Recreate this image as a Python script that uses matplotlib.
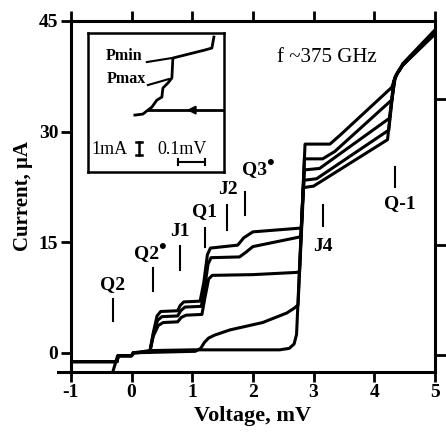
import matplotlib
matplotlib.use('Agg')
import matplotlib.pyplot as plt

plt.rcParams['font.family'] = ['Liberation Serif', 'DejaVu Serif']
plt.rcParams['font.weight'] = 'bold'
plt.rcParams['axes.labelweight'] = 'bold'
plt.rcParams['axes.unicode_minus'] = False

# I-V curves under LO pumping, from strongest pumping (a) to unpumped (e)
v_a = [-0.31, -0.23, 0.0, 0.03, 0.30, 0.36, 0.42, 0.48, 0.76, 0.80, 0.86, 1.13, 1.19, 1.25, 1.30,
       1.75, 1.85, 2.0, 2.77, 2.80, 2.83, 3.0, 4.22, 4.32, 4.40, 4.47, 5.05]
i_a = [-2.6, -0.4, -0.4, 0.0, 0.1, 2.8, 5.0, 5.6, 5.7, 6.4, 6.9, 7.0, 9.5, 13.3, 14.2,
       14.6, 15.6, 16.4, 16.9, 17.0, 22.4, 22.6, 28.9, 36.8, 38.2, 39.0, 43.6]

v_b = [-1.0, -0.24, -0.22, 0.0, 0.03, 0.30, 0.36, 0.43, 0.50, 0.76, 0.81, 0.88, 1.15, 1.20, 1.26, 1.31,
       1.78, 1.88, 2.0, 2.77, 2.79, 2.84, 3.05, 4.24, 4.33, 4.40, 4.47, 5.05]
i_b = [-1.2, -1.2, -0.4, -0.4, 0.0, 0.1, 2.6, 4.4, 4.9, 5.0, 5.7, 6.2, 6.3, 8.5, 12.0, 12.9,
       13.0, 13.6, 14.4, 15.7, 16.0, 23.4, 23.6, 30.2, 37.0, 38.2, 39.0, 43.8]

v_c = [-1.0, -0.24, -0.22, 0.0, 0.03, 0.30, 0.36, 0.44, 0.52, 0.76, 0.82, 0.90, 1.16, 1.21, 1.27, 1.33,
       2.0, 2.72, 2.77, 2.85, 3.1, 4.25, 4.34, 4.40, 4.47, 5.05]
i_c = [-1.2, -1.2, -0.4, -0.4, 0.0, 0.1, 2.3, 3.7, 4.1, 4.2, 4.8, 5.1, 5.2, 7.5, 10.0, 10.5,
       10.6, 10.9, 11.0, 24.8, 25.0, 31.8, 37.3, 38.1, 39.0, 43.7]

v_d = [-1.0, -0.24, -0.22, 0.0, 0.03, 1.05, 1.14, 1.20, 1.27, 1.37, 1.62, 2.16, 2.56, 2.69, 2.745,
       2.85, 3.15, 3.35, 4.29, 4.35, 4.40, 4.47, 5.05]
i_d = [-1.2, -1.2, -0.4, -0.4, 0.0, 0.2, 0.6, 1.4, 2.0, 2.4, 3.1, 4.1, 5.4, 6.1, 6.5,
       26.3, 26.3, 27.3, 34.3, 37.5, 38.2, 39.1, 44.0]

v_e = [-1.0, -0.24, -0.22, 0.0, 0.03, 0.30, 1.0, 2.0, 2.44, 2.60, 2.68, 2.72,
       2.86, 3.27, 3.45, 4.29, 4.37, 4.42, 4.47, 5.05]
i_e = [-1.2, -1.2, -0.4, -0.4, 0.0, 0.3, 0.4, 0.4, 0.4, 0.6, 1.2, 2.5,
       28.3, 28.3, 29.6, 36.0, 37.8, 38.3, 39.2, 44.2]

# photon step / josephson labels: name, text position, marker position
labels = ['Q2', 'Q2', 'J1', 'Q1', 'J2', 'Q3', 'J4', 'Q-1']
dotted = [False, True, False, False, False, True, False, False]
label_v = [-0.31, 0.24, 0.80, 1.21, 1.59, 2.03, 3.15, 4.42]
label_i = [9.2, 13.4, 16.5, 19.2, 22.1, 24.8, 14.4, 20.3]
mark_v = [-0.31, 0.35, 0.80, 1.21, 1.57, 1.87, 3.15, 4.35]
mark_lo = [4.3, 8.4, 11.2, 14.4, 16.7, 18.7, 17.2, 22.5]
mark_hi = [7.3, 11.5, 14.5, 16.9, 20.0, 21.8, 20.0, 25.2]

# inset sketch (arbitrary units, y down)
inset_x = [126, 124, 117, 85, 84, 80, 75, 74, 69, 64, 60, 55, 47]
inset_y = [4, 15, 17, 25, 45, 50, 55, 64, 67, 74, 77, 81, 82]

fig = plt.figure(figsize=(4.46, 4.46), dpi=100)
ax = fig.add_axes([0.159, 0.166, 0.816, 0.787])

for v, i in [(v_a, i_a), (v_b, i_b), (v_c, i_c), (v_d, i_d), (v_e, i_e)]:
    ax.plot(v, i, color='black', lw=2.2, solid_joinstyle='round', solid_capstyle='round')

for t, d, tv, ti, mv, lo, hi in zip(labels, dotted, label_v, label_i, mark_v, mark_lo, mark_hi):
    ax.text(tv, ti, t, ha='center', va='center', fontsize=14)
    if d:
        ax.annotate('•', xy=(tv, ti), xytext=(8.5, 4), textcoords='offset points',
                    ha='left', va='center', fontsize=16)
    ax.plot([mv, mv], [lo, hi], color='black', lw=1.5)

ax.text(3.22, 40.0, 'f ~375 GHz', ha='center', va='center', fontsize=15, fontweight='normal')

ax.set_xlim(-1, 5)
ax.set_ylim(-2.6, 45)
ax.set_xticks([-1, 0, 1, 2, 3, 4, 5])
ax.set_yticks([0, 15, 30, 45])
ax.tick_params(direction='out', length=7, width=2, labelsize=14, pad=2,
               top=True, right=False)
for s in ax.spines.values():
    s.set_linewidth(2.2)
ax.set_xlabel('Voltage, mV', fontsize=16, labelpad=3)
ax.set_ylabel('Current, μA', fontsize=15, labelpad=4)
ax.plot([-0.035, 0], [0, 0], transform=ax.transAxes, color='black', lw=2.2, clip_on=False)

# right side ticks
ax_r = ax.twinx()
ax_r.set_ylim(ax.get_ylim())
ax_r.set_yticks([34.4, 14.6, -0.3])
ax_r.tick_params(direction='out', length=8, width=2, labelright=False)

# inset
ins = fig.add_axes([0.197, 0.614, 0.305, 0.312])
ins.set_xlim(0, 136)
ins.set_ylim(139, 0)
ins.set_xticks([])
ins.set_yticks([])
for s in ins.spines.values():
    s.set_linewidth(1.8)
ins.plot(inset_x, inset_y, color='black', lw=2.0)
ins.plot([60, 136], [77, 77], color='black', lw=2.0)
ins.annotate('', xy=(96, 77), xytext=(106, 77),
             arrowprops=dict(arrowstyle='-|>', color='black', lw=1.5, mutation_scale=12))
ins.text(36, 23, 'Pmin', ha='center', va='center', fontsize=11.5)
ins.text(38, 46, 'Pmax', ha='center', va='center', fontsize=11.5)
ins.plot([59, 84], [29, 25], color='black', lw=1.5)
ins.plot([60, 81], [52, 46], color='black', lw=1.5)
ins.text(4, 116, '1mA', ha='left', va='center', fontsize=13, fontweight='normal')
ins.plot([51, 51], [109, 122], color='black', lw=1.8)
ins.plot([48, 54], [109, 109], color='black', lw=1.8)
ins.plot([48, 54], [122, 122], color='black', lw=1.8)
ins.text(69, 116, '0.1mV', ha='left', va='center', fontsize=13, fontweight='normal')
ins.plot([90, 117], [129, 129], color='black', lw=1.5)
ins.plot([90, 90], [126, 132], color='black', lw=1.5)
ins.plot([117, 117], [126, 132], color='black', lw=1.5)

fig.savefig('out.png', dpi=100)
